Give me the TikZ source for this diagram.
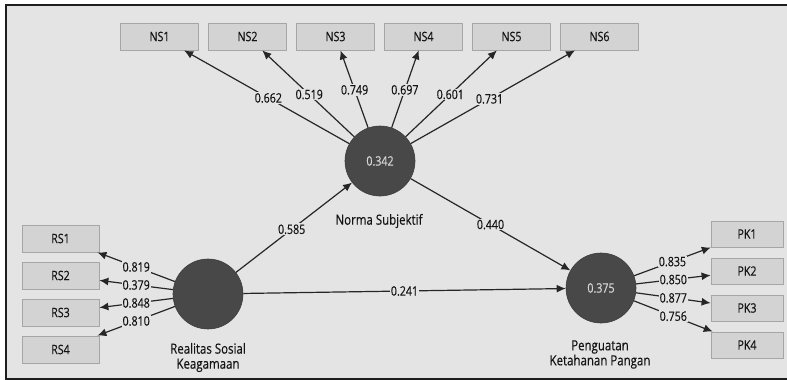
\documentclass[tikz,border=0pt]{standalone}
\usepackage{fontspec}
\setmainfont{Open Sans}[FakeStretch=0.82,FakeBold=0.35]
\usetikzlibrary{arrows.meta}
\definecolor{bgc}{HTML}{E4E4E4}
\definecolor{framec}{HTML}{1E1E1E}
\definecolor{boxfill}{HTML}{D3D3D3}
\definecolor{boxline}{HTML}{A6A6A6}
\definecolor{latfill}{HTML}{484848}
\definecolor{latline}{HTML}{3C3C3C}
\definecolor{linec}{HTML}{262626}
\definecolor{txtc}{HTML}{141414}
\definecolor{valc}{HTML}{D6D6D6}
\tikzset{
  indbox/.style={draw=boxline, line width=0.8pt, fill=boxfill, minimum width=78pt, minimum height=27pt, inner sep=0pt, text=txtc, font=\fontsize{13}{15}\selectfont},
  pkbox/.style={indbox, minimum width=72pt, minimum height=26pt},
  latent/.style={circle, fill=latfill, draw=latline, line width=0.6pt, minimum size=70pt, inner sep=0pt, text=valc, font=\fontsize{13}{15}\selectfont},
  latname/.style={text=txtc, font=\fontsize{14}{16}\selectfont, align=center, inner sep=0pt},
  conn/.style={draw=linec, line width=1.2pt, -{Latex[length=9pt,width=8pt]}},
  lbl/.style={fill=bgc, inner sep=1pt, text=txtc, font=\fontsize{13}{15}\selectfont}
}
\begin{document}
\begin{tikzpicture}[x=1pt,y=-1pt]
\useasboundingbox (0,0) rectangle (787,380);
\fill[white] (0,0) rectangle (787,380);
\fill[bgc] (6,5) rectangle (787,378.5);
\draw[framec, line width=2pt] (5,5) -- (787,5);
\draw[framec, line width=2pt] (6,4) -- (6,379);
\draw[framec, line width=2pt] (5,378.7) -- (787,378.7);

% indicator boxes
\node[indbox] (ns1) at (159.5,36.5) {NS1};
\node[indbox] (ns2) at (247.5,36.5) {NS2};
\node[indbox] (ns3) at (335.5,36.5) {NS3};
\node[indbox] (ns4) at (423.5,36.5) {NS4};
\node[indbox] (ns5) at (511.5,36.5) {NS5};
\node[indbox] (ns6) at (599.5,36.5) {NS6};

\node[indbox, minimum width=77pt] (rs1) at (60.5,238.5) {RS1};
\node[indbox, minimum width=77pt] (rs2) at (60.5,275.5) {RS2};
\node[indbox, minimum width=77pt] (rs3) at (60.5,312.5) {RS3};
\node[indbox, minimum width=77pt] (rs4) at (60.5,349.5) {RS4};

\node[pkbox] (pk1) at (747,234) {PK1};
\node[pkbox] (pk2) at (747,271) {PK2};
\node[pkbox] (pk3) at (747,308) {PK3};
\node[pkbox] (pk4) at (747,345) {PK4};

% latent variables
\node[latent] (ns) at (380,161) {0.342};
\node[latent] (rsk) at (208,294) {};
\node[latent] (pk) at (601,288) {0.375};

\node[latname] (nsname) at (379,221) {Norma Subjektif};
\node[latname] (rskname) at (208,357.5) {Realitas Sosial\\[-1pt]Keagamaan};
\node[latname] (pkname) at (600,354.5) {Penguatan\\[-1pt]Ketahanan Pangan};

% outer loadings: Norma Subjektif
\draw[conn] (ns) -- node[lbl, pos=0.49] (l1) {0.662} (ns1);
\draw[conn] (ns) -- node[lbl, pos=0.49] (l2) {0.519} (ns2);
\draw[conn] (ns) -- node[lbl, pos=0.49] (l3) {0.749} (ns3);
\draw[conn] (ns) -- node[lbl, pos=0.49] (l4) {0.697} (ns4);
\draw[conn] (ns) -- node[lbl, pos=0.49] (l5) {0.601} (ns5);
\draw[conn] (ns) -- node[lbl, pos=0.48] (l6) {0.731} (ns6);

% outer loadings: Realitas Sosial Keagamaan
\draw[conn] (rsk) -- node[lbl, pos=0.5] (r1) {0.819} (rs1);
\draw[conn] (rsk) -- node[lbl, pos=0.5] (r2) {0.379} (rs2);
\draw[conn] (rsk) -- node[lbl, pos=0.5] (r3) {0.848} (rs3);
\draw[conn] (rsk) -- node[lbl, pos=0.5] (r4) {0.810} (rs4);

% outer loadings: Penguatan Ketahanan Pangan
\draw[conn] (pk) -- node[lbl, pos=0.5] (p1) {0.835} (pk1);
\draw[conn] (pk) -- node[lbl, pos=0.5] (p2) {0.850} (pk2);
\draw[conn] (pk) -- node[lbl, pos=0.5] (p3) {0.877} (pk3);
\draw[conn] (pk) -- node[lbl, pos=0.5] (p4) {0.756} (pk4);

% structural paths
\draw[conn] (rsk) -- node[lbl, pos=0.48] (s1) {0.585} (ns);
\draw[conn] (ns) -- node[lbl, pos=0.5] (s2) {0.440} (pk);
\draw[conn] (rsk) -- node[lbl, pos=0.5] (s3) {0.241} (pk);
\end{tikzpicture}
\end{document}
